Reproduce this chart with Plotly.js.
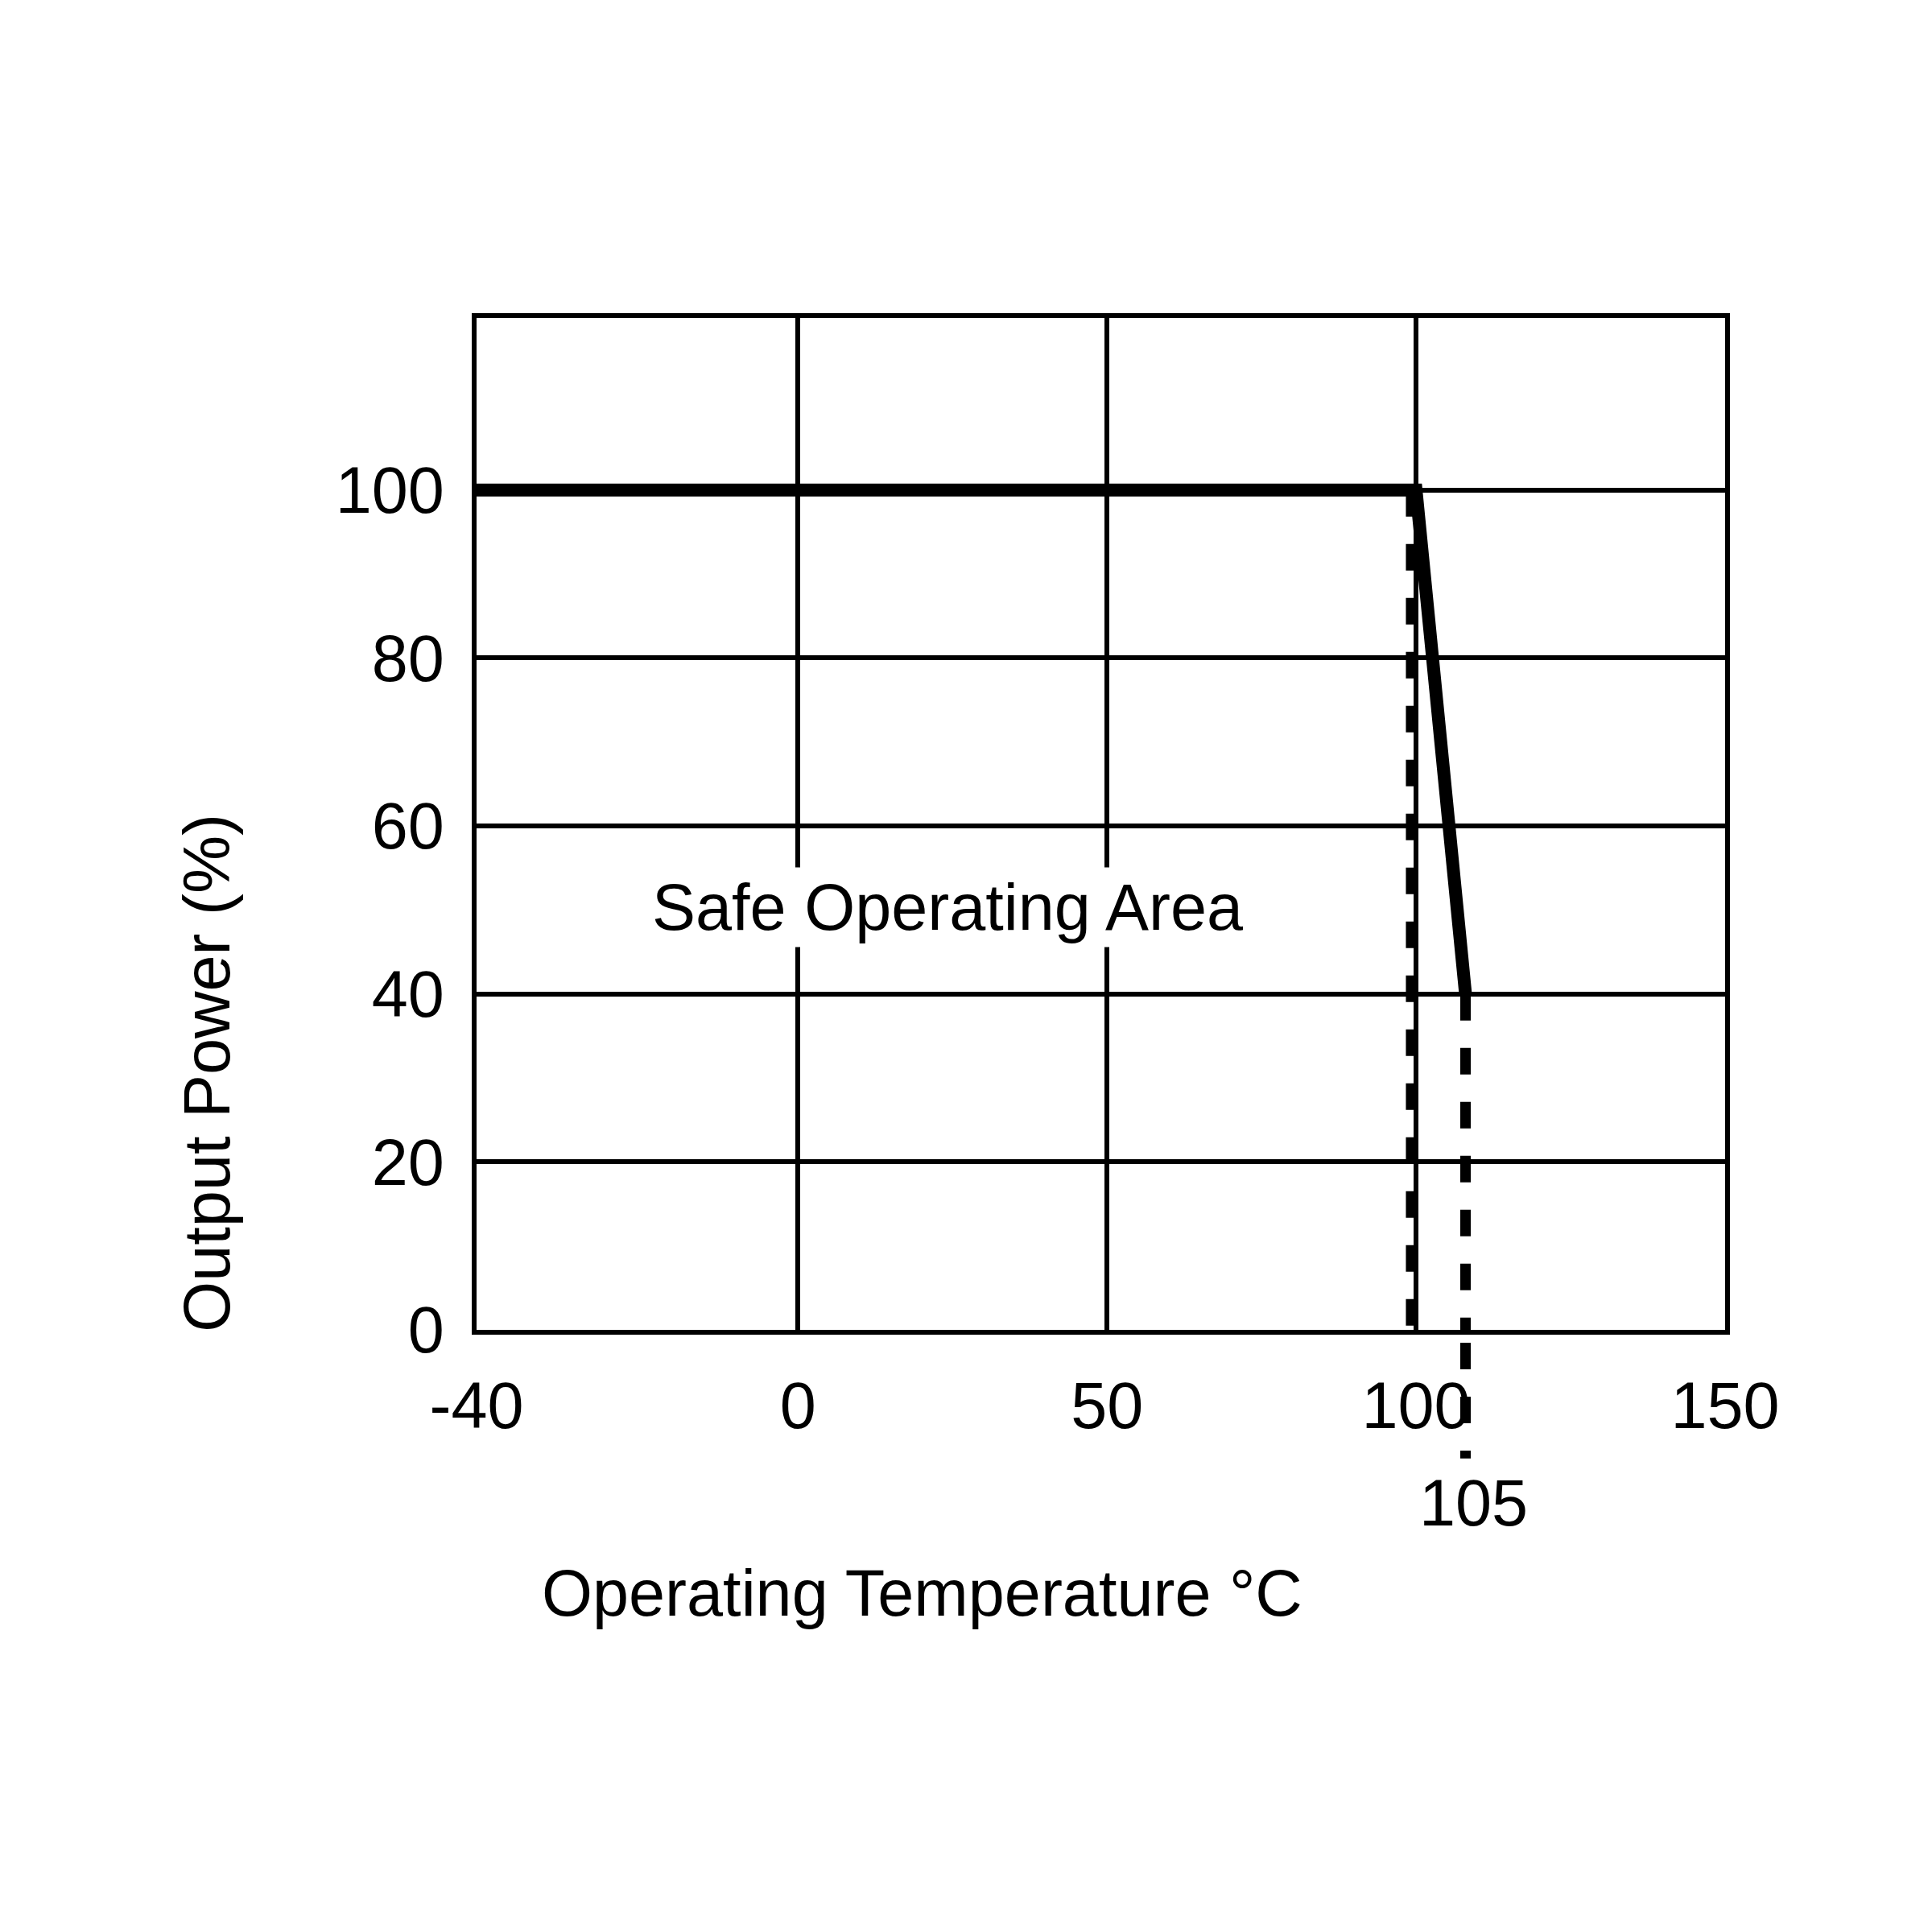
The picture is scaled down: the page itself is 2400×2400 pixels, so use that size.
<!DOCTYPE html>
<html>
<head>
<meta charset="utf-8">
<script src="https://cdn.plot.ly/plotly-3.0.1.min.js"></script>
<style>html,body{margin:0;padding:0;background:#fff;}#chart{width:2400px;height:2400px;}</style>
</head>
<body>
<div id="chart"></div>
<script>
// Derating curve
const curveTemp = [-52, 100, 108];
const curvePower = [100, 100, 40];
// Dashed limit lines
const limitLeftTemp = [99.2, 99.2];
const limitLeftPower = [100, 0];
const limitRightTemp = [108, 108];
const limitRightPower = [40, 0];
// Axes
const xRange = [-52, 150];
const yRange = [0, 120.5];
const xTickVals = [-52, 0, 50, 100, 150];
const xTickText = ['-40', '0', '50', '100', '150'];
const yTickVals = [0, 20, 40, 60, 80, 100];
const yTickText = ['0', '20', '40', '60', '80', '100'];
// Labels
const areaLabel = 'Safe Operating Area';
const areaLabelPos = [24.2, 50.3];
const limitLabel = '105';
const xTitle = 'Operating Temperature °C';
const yTitle = 'Output Power (%)';

const FONT = 'Liberation Sans, Arial, sans-serif';
const FS = 81;
const dashPat = '33px,34px';

const traces = [
  {x: limitLeftTemp, y: limitLeftPower, mode: 'lines', line: {color: '#000', width: 13, dash: dashPat}, hoverinfo: 'skip'},
  {x: limitRightTemp, y: limitRightPower, mode: 'lines', line: {color: '#000', width: 13, dash: dashPat}, hoverinfo: 'skip'},
  {x: curveTemp, y: curvePower, mode: 'lines', line: {color: '#000', width: 16}, hoverinfo: 'skip'}
];

const layout = {
  width: 2400, height: 2400,
  margin: {l: 592, r: 257, t: 395, b: 748},
  paper_bgcolor: '#fff', plot_bgcolor: '#fff',
  showlegend: false,
  font: {family: FONT, size: FS, color: '#000'},
  xaxis: {
    range: xRange, tickmode: 'array', tickvals: xTickVals, ticktext: xTickText,
    showgrid: true, gridcolor: '#000', gridwidth: 6, zeroline: false,
    showline: true, linecolor: '#000', linewidth: 6, mirror: true,
    ticks: '', ticklabelstandoff: 19, tickfont: {family: FONT, size: FS, color: '#000'}
  },
  yaxis: {
    range: yRange, tickmode: 'array', tickvals: yTickVals, ticktext: yTickText,
    showgrid: true, gridcolor: '#000', gridwidth: 6, zeroline: false,
    showline: true, linecolor: '#000', linewidth: 6, mirror: true,
    ticks: '', ticklabelstandoff: 18, tickfont: {family: FONT, size: FS, color: '#000'}
  },
  shapes: [
    {type: 'line', xref: 'x', yref: 'paper', x0: limitRightTemp[0], x1: limitRightTemp[1], y0: -0.0127, y1: -0.127,
     line: {color: '#000', width: 13, dash: dashPat}}
  ],
  annotations: [
    {x: areaLabelPos[0], y: areaLabelPos[1], xref: 'x', yref: 'y', text: areaLabel, showarrow: false,
     bgcolor: '#fff', borderpad: 4, font: {family: FONT, size: FS, color: '#000'}},
    {x: limitRightTemp[0], y: -0.171, xref: 'x', yref: 'paper', text: limitLabel, showarrow: false, xshift: 10,
     xanchor: 'center', yanchor: 'middle', font: {family: FONT, size: FS, color: '#000'}},
    {x: 0.3566, y: -0.26, xref: 'paper', yref: 'paper', text: xTitle, showarrow: false,
     xanchor: 'center', yanchor: 'middle', font: {family: FONT, size: FS, color: '#000'}},
    {x: -0.216, y: 0.254, xref: 'paper', yref: 'paper', text: yTitle, showarrow: false, textangle: -90,
     xanchor: 'center', yanchor: 'middle', font: {family: FONT, size: FS, color: '#000'}}
  ]
};

Plotly.newPlot('chart', traces, layout, {staticPlot: true, displayModeBar: false});
</script>
</body>
</html>
